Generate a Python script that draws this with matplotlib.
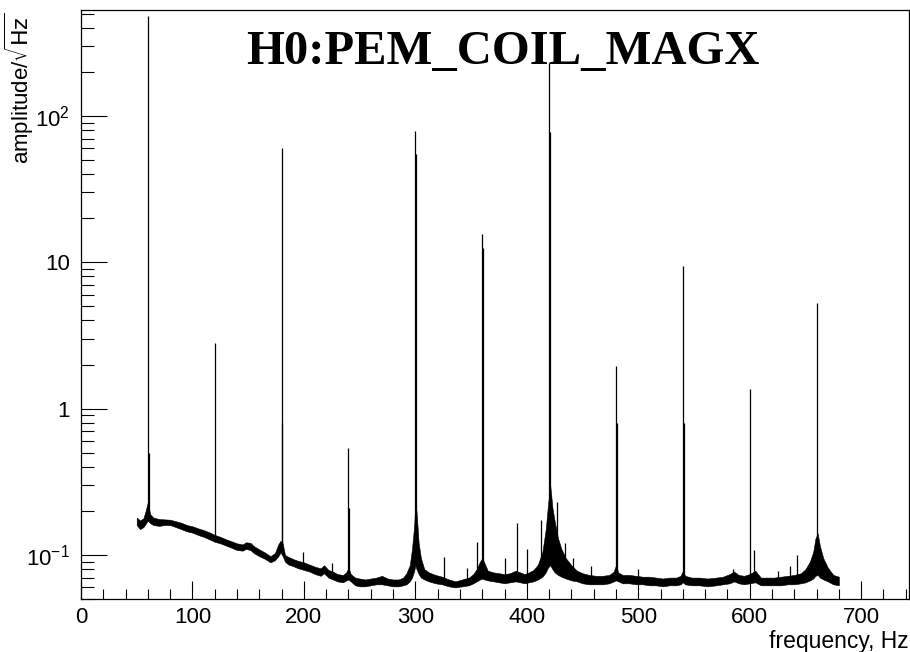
import matplotlib
matplotlib.use("Agg")
import matplotlib.pyplot as plt
import numpy as np
from matplotlib.ticker import FixedLocator, LogLocator, MultipleLocator, NullFormatter

plt.rcParams["font.family"] = ["Liberation Sans", "DejaVu Sans"]
plt.rcParams["mathtext.fontset"] = "custom"
plt.rcParams["mathtext.rm"] = "Liberation Sans"
plt.rcParams["mathtext.it"] = "Liberation Sans:italic"
plt.rcParams["mathtext.bf"] = "Liberation Sans:bold"

TITLE = "H0:PEM_COIL_MAGX"
X_LABEL = "frequency, Hz"
Y_LABEL = r"amplitude/$\sqrt{\mathrm{Hz}}$"

# noise floor of the spectrum: frequency (Hz), lower and upper edge of the band
BAND_FREQ = [
    50, 53, 56, 58, 60, 62, 65, 70, 75, 80, 85, 90, 95, 100, 105, 110, 115, 120,
    125, 130, 135, 140, 145, 148, 152, 155, 160, 165, 170, 174, 177, 179, 181,
    183, 186, 190, 195, 200, 205, 210, 215, 218, 222, 226, 230, 235, 238, 240,
    242, 246, 250, 255, 260, 265, 270, 275, 280, 285, 289, 292, 295, 297, 299,
    300, 301, 303, 305, 308, 312, 318, 324, 330, 336, 342, 348, 352, 355, 358,
    360, 362, 365, 370, 375, 380, 385, 390, 394, 398, 402, 406, 410, 414, 417,
    419, 421, 423, 425, 428, 431, 435, 440, 445, 450, 456, 462, 468, 474, 478,
    480, 482, 486, 492, 498, 504, 510, 516, 522, 528, 534, 538, 540, 542, 548,
    555, 562, 570, 576, 582, 586, 590, 595, 600, 605, 610, 616, 622, 628, 634,
    640, 646, 650, 654, 657, 659, 661, 663, 666, 670, 675, 680,
]
BAND_LO = [
    0.160, 0.150, 0.155, 0.163, 0.172, 0.165, 0.160, 0.158, 0.160, 0.160, 0.155,
    0.150, 0.145, 0.142, 0.137, 0.133, 0.128, 0.123, 0.120, 0.116, 0.112, 0.108,
    0.107, 0.110, 0.108, 0.103, 0.098, 0.094, 0.089, 0.092, 0.098, 0.104, 0.098,
    0.090, 0.086, 0.084, 0.081, 0.079, 0.077, 0.074, 0.072, 0.075, 0.070, 0.068,
    0.066, 0.065, 0.067, 0.068, 0.066, 0.062, 0.061, 0.061, 0.062, 0.063, 0.063,
    0.062, 0.061, 0.061, 0.062, 0.063, 0.066, 0.070, 0.078, 0.085, 0.080, 0.074,
    0.070, 0.068, 0.066, 0.064, 0.063, 0.061, 0.060, 0.061, 0.062, 0.064, 0.066,
    0.068, 0.069, 0.068, 0.067, 0.066, 0.065, 0.064, 0.065, 0.066, 0.065, 0.064,
    0.065, 0.066, 0.068, 0.071, 0.076, 0.082, 0.085, 0.080, 0.076, 0.073, 0.071,
    0.069, 0.067, 0.066, 0.064, 0.063, 0.063, 0.063, 0.064, 0.066, 0.067, 0.066,
    0.064, 0.064, 0.063, 0.063, 0.062, 0.062, 0.061, 0.062, 0.062, 0.063, 0.065,
    0.063, 0.062, 0.062, 0.061, 0.062, 0.063, 0.064, 0.066, 0.064, 0.063, 0.064,
    0.065, 0.062, 0.062, 0.062, 0.062, 0.063, 0.063, 0.064, 0.065, 0.067, 0.069,
    0.072, 0.073, 0.070, 0.068, 0.066, 0.063, 0.062,
]
BAND_HI = [
    0.180, 0.172, 0.178, 0.200, 0.230, 0.190, 0.180, 0.176, 0.175, 0.174, 0.170,
    0.166, 0.160, 0.157, 0.152, 0.148, 0.143, 0.137, 0.133, 0.128, 0.124, 0.120,
    0.118, 0.122, 0.121, 0.115, 0.109, 0.104, 0.098, 0.103, 0.118, 0.125, 0.120,
    0.100, 0.097, 0.094, 0.091, 0.089, 0.086, 0.083, 0.081, 0.085, 0.079, 0.077,
    0.074, 0.073, 0.076, 0.082, 0.074, 0.070, 0.069, 0.068, 0.069, 0.070, 0.072,
    0.069, 0.068, 0.068, 0.070, 0.075, 0.085, 0.110, 0.160, 0.230, 0.200, 0.120,
    0.095, 0.080, 0.076, 0.073, 0.071, 0.068, 0.066, 0.068, 0.070, 0.074, 0.080,
    0.090, 0.095, 0.088, 0.078, 0.076, 0.075, 0.074, 0.075, 0.078, 0.076, 0.074,
    0.076, 0.079, 0.086, 0.105, 0.150, 0.220, 0.300, 0.210, 0.170, 0.130, 0.110,
    0.095, 0.085, 0.078, 0.075, 0.073, 0.072, 0.072, 0.073, 0.077, 0.085, 0.076,
    0.073, 0.073, 0.072, 0.071, 0.071, 0.070, 0.069, 0.070, 0.070, 0.072, 0.078,
    0.072, 0.070, 0.070, 0.069, 0.070, 0.071, 0.074, 0.077, 0.073, 0.072, 0.074,
    0.078, 0.070, 0.070, 0.070, 0.071, 0.072, 0.073, 0.075, 0.080, 0.090, 0.105,
    0.130, 0.140, 0.115, 0.095, 0.082, 0.073, 0.071,
]

# narrow lines (mains harmonics): frequency (Hz), floor and top
LINE_FREQ = [60, 60.7, 120, 180, 180.7, 240, 240.7, 300, 300.7, 360, 360.7,
             420, 420.7, 480, 480.7, 540, 540.7, 600, 660]
LINE_FLOOR = [0.17, 0.17, 0.13, 0.11, 0.11, 0.072, 0.072, 0.09, 0.09, 0.075, 0.075,
              0.09, 0.09, 0.07, 0.07, 0.068, 0.068, 0.068, 0.075]
LINE_TOP = [480, 0.5, 2.8, 60, 0.8, 0.54, 0.21, 79, 55, 15.5, 12.5,
            230, 78, 1.97, 0.8, 9.5, 0.8, 1.37, 5.25]

# small spurs sitting on the noise floor
SPUR_FREQ = [199, 225, 326, 346, 355, 380, 391, 400, 413, 427.5, 434, 441,
             458, 500, 585, 603.5, 625, 636, 642]
SPUR_FLOOR = [0.085, 0.075, 0.068, 0.068, 0.075, 0.072, 0.075, 0.072, 0.09, 0.11,
              0.085, 0.075, 0.07, 0.07, 0.07, 0.072, 0.07, 0.07, 0.07]
SPUR_TOP = [0.105, 0.088, 0.097, 0.081, 0.123, 0.096, 0.165, 0.110, 0.173, 0.23,
            0.12, 0.096, 0.084, 0.080, 0.080, 0.108, 0.078, 0.084, 0.100]

X_RANGE = (0, 743)
Y_RANGE = (0.05, 530)


def _decade_label(value, _pos):
    exponent = int(round(np.log10(value)))
    if exponent == 0:
        return "1"
    if exponent == 1:
        return "10"
    return r"$10^{%d}$" % exponent


def main():
    fig = plt.figure(figsize=(9.1, 6.52), dpi=100)
    ax = fig.add_axes([0.089, 0.0813, 0.910, 0.9035])

    ax.fill_between(BAND_FREQ, BAND_LO, BAND_HI, color="black", linewidth=0.4)
    ax.vlines(SPUR_FREQ, SPUR_FLOOR, SPUR_TOP, color="black", linewidth=0.9)
    ax.vlines(LINE_FREQ, LINE_FLOOR, LINE_TOP, color="black", linewidth=0.9)

    ax.set_yscale("log")
    ax.set_xlim(*X_RANGE)
    ax.set_ylim(*Y_RANGE)

    ax.xaxis.set_major_locator(MultipleLocator(100))
    ax.xaxis.set_minor_locator(MultipleLocator(20))
    ax.yaxis.set_major_locator(FixedLocator([0.1, 1, 10, 100]))
    ax.yaxis.set_major_formatter(plt.FuncFormatter(_decade_label))
    ax.yaxis.set_minor_locator(LogLocator(base=10, subs=np.arange(2, 10), numticks=20))
    ax.yaxis.set_minor_formatter(NullFormatter())

    ax.tick_params(axis="x", which="major", direction="in", length=13, width=0.8,
                   labelsize=16, pad=6, top=False)
    ax.tick_params(axis="x", which="minor", direction="in", length=7, width=0.8, top=False)
    ax.tick_params(axis="y", which="major", direction="in", length=19, width=0.8,
                   labelsize=16, pad=8, right=False)
    ax.tick_params(axis="y", which="minor", direction="in", length=9.5, width=0.8, right=False)

    for spine in ax.spines.values():
        spine.set_linewidth(0.9)

    ax.set_xlabel(X_LABEL, fontsize=16.5, loc="right", labelpad=1)
    # dejavu math draws the bar over Hz, the custom sans one does not
    ax.set_ylabel(Y_LABEL, fontsize=16, loc="top", math_fontfamily="dejavusans")
    ax.yaxis.set_label_coords(-0.054, 0.996)

    ax.text(0.51, 0.928, TITLE, transform=ax.transAxes, ha="center", va="center",
            fontsize=35, fontweight="bold", family=["Liberation Serif", "DejaVu Serif"])

    fig.savefig("out.png", dpi=100)
    plt.close(fig)


if __name__ == "__main__":
    main()
